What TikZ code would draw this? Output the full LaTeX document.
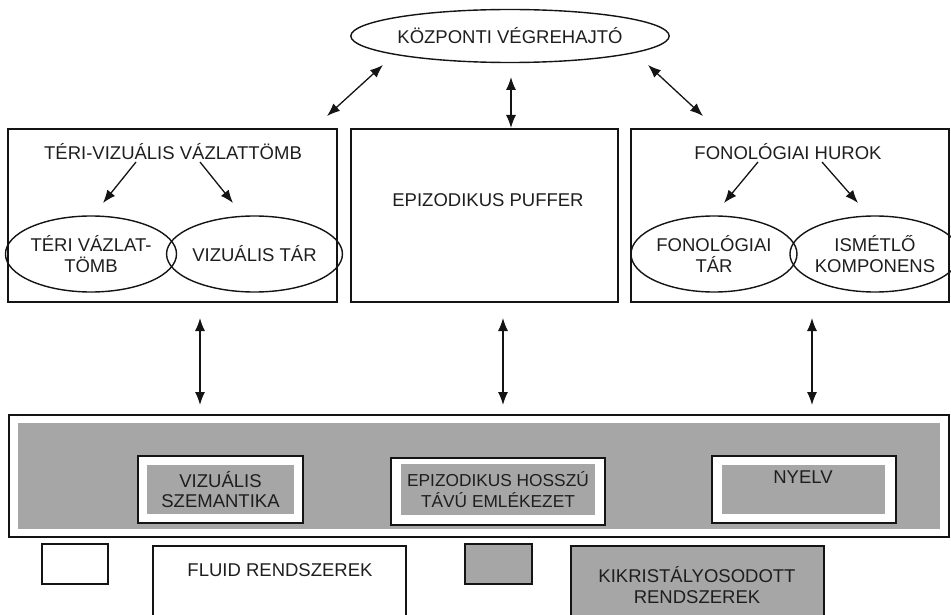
\documentclass[tikz,border=0pt]{standalone}
\usepackage{fontspec}
\setmainfont{Liberation Sans}
\usepackage{tikz}
\usetikzlibrary{shapes,arrows.meta,positioning,calc,shapes.geometric}
\definecolor{wmgray}{RGB}{166,166,166}
\definecolor{wmtext}{RGB}{30,30,30}
\definecolor{wmline}{RGB}{20,20,20}

\begin{document}
\begin{tikzpicture}[
        x=1pt, y=-1pt,
        font=\fontsize{18.5}{20.5}\selectfont,
        comp/.style={draw=wmline, line width=1.4pt, ellipse, inner sep=0pt, align=center, text=wmtext, minimum height=76pt},
        panel/.style={draw=wmline, line width=1.8pt, rectangle, inner sep=0pt, minimum height=173pt},
        txt/.style={text=wmtext, align=center, inner sep=0pt},
        store/.style={draw=wmline, line width=1.2pt, fill=white, rectangle, inner sep=0pt, minimum height=67pt},
        core/.style={fill=wmgray, rectangle, inner sep=0pt, minimum height=49pt, text=wmtext, align=center},
        link/.style={draw=wmline, line width=1.3pt, {Latex[length=13pt,width=10pt]}-{Latex[length=13pt,width=10pt]}},
        feed/.style={draw=wmline, line width=1.3pt, -{Latex[length=13pt,width=10pt]}}
    ]
        \useasboundingbox (0,0) rectangle (951,615);

        % Central Executive
        \node[comp, minimum width=315pt, minimum height=53pt] (exec) at (510,36) {KÖZPONTI VÉGREHAJTÓ};

        % Slave Systems
        \node[panel, minimum width=329pt] (vsp) at (172.5,215.5) {};
        \node[panel, minimum width=267pt] (puffer) at (484.5,215.5) {};
        \node[panel, minimum width=318pt] (loop) at (790,215.5) {};
        \node[txt] (vspT) at (173,152) {TÉRI-VIZUÁLIS VÁZLATTÖMB};
        \node[txt] (pufT) at (488,200) {EPIZODIKUS PUFFER};
        \node[txt] (loopT) at (788,152) {FONOLÓGIAI HUROK};

        \node[comp, minimum width=164pt] (spatial) at (91,254) {TÉRI VÁZLAT-\\TÖMB};
        \node[comp, minimum width=161pt] (visual) at (254.5,254) {VIZUÁLIS TÁR};
        \node[comp, minimum width=166pt] (phon) at (714,254) {FONOLÓGIAI\\TÁR};
        \node[comp, minimum width=152pt] (artic) at (875,254) {ISMÉTLŐ\\KOMPONENS};

        % Long-term Memory
        \node[draw=wmline, line width=1.8pt, minimum width=940pt, minimum height=122pt, inner sep=0pt] (ltm) at (479,476) {};
        \node[fill=wmgray, minimum width=922pt, minimum height=106pt, inner sep=0pt] (band) at (479,476) {};

        \node[store, minimum width=165pt] (vsemO) at (220.5,489.5) {};
        \node[core, minimum width=147pt] (vsem) at (220.5,489.5) {VIZUÁLIS\\SZEMANTIKA};
        \node[store, minimum width=214pt] (epiO) at (498,491.5) {};
        \node[core, minimum width=194pt, minimum height=51pt, font=\fontsize{17.3}{20.5}\selectfont] (epi) at (498,489.5) {EPIZODIKUS HOSSZÚ\\TÁVÚ EMLÉKEZET};
        \node[store, minimum width=184pt] (langO) at (804,489.5) {};
        \node[core, minimum width=163pt] (lang) at (803.5,489.5) {};
        \node[txt] (langT) at (803,477) {NYELV};

        % Legend
        \node[draw=wmline, line width=1.2pt, minimum width=66pt, minimum height=40pt] (wkey) at (75,564) {};
        \node[draw=wmline, line width=1.2pt, minimum width=253pt, minimum height=74pt] (fluid) at (279.5,583) {};
        \node[txt] (fluidT) at (280,570) {FLUID RENDSZEREK};
        \node[draw=wmline, fill=wmgray, line width=1.2pt, minimum width=67pt, minimum height=40pt] (gkey) at (498.5,564) {};
        \node[draw=wmline, fill=wmgray, line width=1.2pt, minimum width=253pt, minimum height=74pt] (cryst) at (697.5,583) {};
        \node[txt] (crystT) at (697,585) {KIKRISTÁLYOSODOTT\\RENDSZEREK};

        % Arrow ends
        \coordinate (e1) at (383,65);
        \coordinate (v1) at (327,116);
        \coordinate (e2) at (511,77);
        \coordinate (p1) at (511,128);
        \coordinate (e3) at (648,65);
        \coordinate (l1) at (703,116);
        \coordinate (vs1) at (136,162);
        \coordinate (vs2) at (103,203);
        \coordinate (vv1) at (200,162);
        \coordinate (vv2) at (233,203);
        \coordinate (lp1) at (758,162);
        \coordinate (lp2) at (724,203);
        \coordinate (la1) at (822,162);
        \coordinate (la2) at (858,203);
        \coordinate (d1) at (200,318);
        \coordinate (u1) at (200,405);
        \coordinate (d2) at (503,318);
        \coordinate (u2) at (503,405);
        \coordinate (d3) at (812,318);
        \coordinate (u3) at (812,405);

        % Connections
        \draw[link] (e1) -- (v1);
        \draw[link] (e2) -- (p1);
        \draw[link] (e3) -- (l1);

        \draw[feed] (vs1) -- (vs2);
        \draw[feed] (vv1) -- (vv2);
        \draw[feed] (lp1) -- (lp2);
        \draw[feed] (la1) -- (la2);

        \draw[link] (d1) -- (u1);
        \draw[link] (d2) -- (u2);
        \draw[link] (d3) -- (u3);
\end{tikzpicture}
\end{document}
